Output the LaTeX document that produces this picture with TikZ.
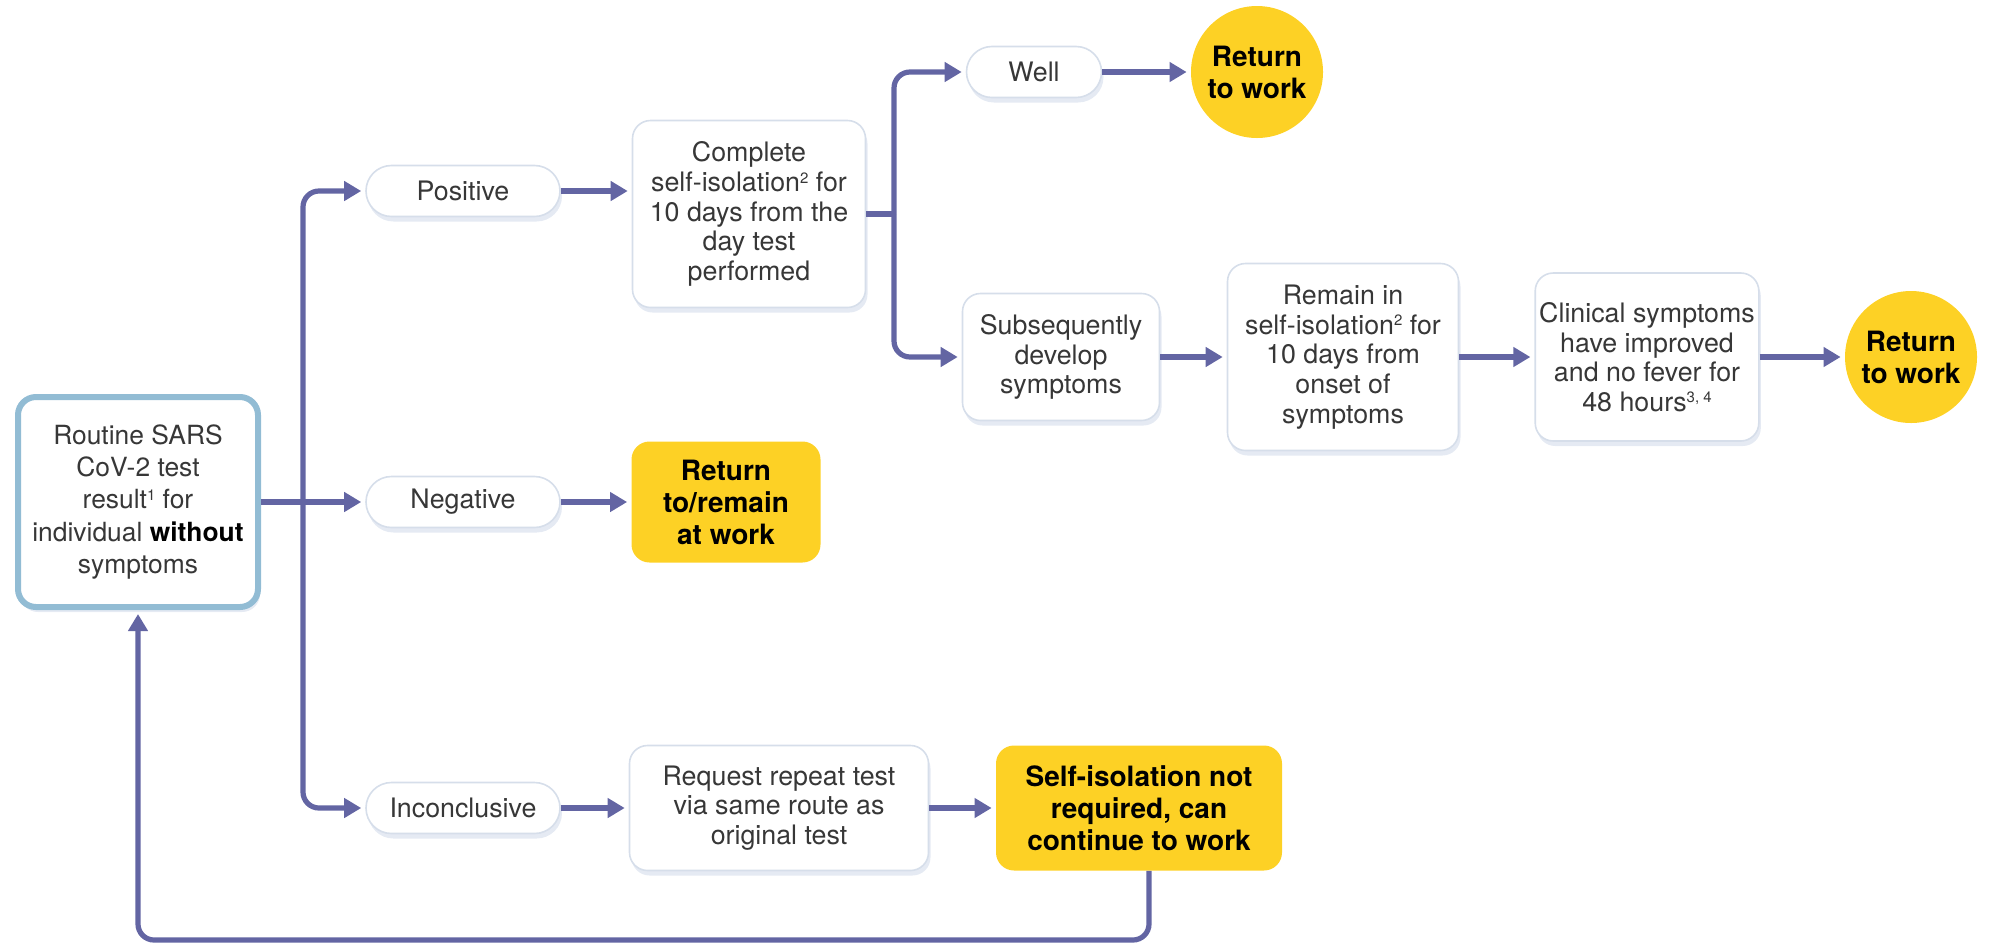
\documentclass[tikz,border=0pt]{standalone}
\usepackage{fontspec}
\setmainfont{TeX Gyre Heros}
\usetikzlibrary{calc,positioning,shadows,arrows.meta}

\definecolor{flowBlue}{RGB}{99,101,163}
\definecolor{boxYellow}{RGB}{253,209,37}
\definecolor{edgeGrey}{RGB}{214,222,234}
\definecolor{startBlue}{RGB}{146,188,212}
\definecolor{shadowBlue}{RGB}{125,150,195}
\definecolor{textGrey}{RGB}{55,55,55}

\begin{document}
\begin{tikzpicture}[x=0.5pt,y=-0.5pt]
    \newcommand*{\noteMark}[1]{\raisebox{0.6ex}{\fontsize{7.5}{8}\selectfont #1}}
    \tikzstyle{every node}=[font=\fontsize{13.4}{14.8}\selectfont];
    \tikzstyle{flow arrow}=[line width=2.6pt, flowBlue, -{Triangle[length=8.5pt,width=9.5pt]}, shorten >=2pt];
    \tikzstyle{soft shadow}=[drop shadow={opacity=0.2, shadow xshift=1pt, shadow yshift=-2.5pt, fill=shadowBlue}];
    \tikzstyle{white box}=[draw=edgeGrey, line width=0.8pt, fill=white, rounded corners=9pt, align=center, text=textGrey, inner sep=2pt, soft shadow];
    \tikzstyle{pill box}=[white box, rounded corners=12.7pt, minimum height=25.5pt];
    \tikzstyle{yellow box}=[fill=boxYellow, rounded corners=9pt, align=center, text=black, inner sep=2pt, font=\fontsize{14}{16}\selectfont\bfseries];
    \tikzstyle{yellow circle}=[yellow box, circle, minimum size=66pt, inner sep=0pt];

    \useasboundingbox (0,0) rectangle (1995,944);

    % start and result pills
    \node[white box, draw=startBlue, line width=3pt, minimum width=120pt, minimum height=105pt, font=\fontsize{13.2}{16.2}\selectfont] (routine) at (138,502)
        {Routine SARS\\CoV-2 test\\result\noteMark{1} for\\individual \textbf{\color{black}without}\\symptoms};
    \node[pill box, minimum width=97pt] (pos) at (463,191) {Positive};
    \node[pill box, minimum width=97pt] (neg) at (463,502) {Negative};
    \node[pill box, minimum width=97pt] (inc) at (463,808) {Inconclusive};

    % positive branch
    \node[white box, minimum width=116.5pt, minimum height=93.5pt] (complete) at (749,214)
        {Complete\\self-isolation\noteMark{2} for\\10 days from the\\day test\\performed};
    \node[pill box, minimum width=67.5pt] (well) at (1034,72) {Well};
    \node[yellow circle] (rtwA) at (1257,72) {Return\\to work};
    \node[white box, minimum width=98.5pt, minimum height=63.5pt] (subseq) at (1061,357)
        {Subsequently\\develop\\symptoms};
    \node[white box, minimum width=115.5pt, minimum height=93.5pt] (remain) at (1343,357)
        {Remain in\\self-isolation\noteMark{2} for\\10 days from\\onset of\\symptoms};
    \node[white box, minimum width=111pt, minimum height=84pt] (clinical) at (1647,357)
        {Clinical symptoms\\have improved\\and no fever for\\48 hours\noteMark{3, 4}};
    \node[yellow circle] (rtwB) at (1911,357) {Return\\to work};

    % negative and inconclusive branches
    \node[yellow box, minimum width=94.5pt, minimum height=60.5pt] (stay) at (726,502) {Return\\to/remain\\at work};
    \node[white box, minimum width=149.5pt, minimum height=62.5pt] (request) at (779,808)
        {Request repeat test\\via same route as\\original test};
    \node[yellow box, minimum width=143pt, minimum height=62.5pt] (selfiso) at (1139,808)
        {Self-isolation not\\required, can\\continue to work};

    \coordinate (split) at (303,502);
    \coordinate (splitPos) at (894,214);
    \coordinate (loopStart) at (1149,840);
    \coordinate (loopCorner) at (138,940);

    \draw[flow arrow] (routine) -- (neg);
    \draw[flow arrow, rounded corners=8pt] (split) |- (pos);
    \draw[flow arrow, rounded corners=8pt] (split) |- (inc);
    \draw[flow arrow] (pos) -- (pos -| complete.west);
    \draw[line width=2.6pt, flowBlue] (complete.east) -- (splitPos);
    \draw[flow arrow, rounded corners=8pt] (splitPos) |- (well);
    \draw[flow arrow, rounded corners=8pt] (splitPos) |- (subseq);

    \foreach \a/\b in {neg/stay, inc/request, request/selfiso, well/rtwA, subseq/remain, remain/clinical, clinical/rtwB} {
      \draw[flow arrow] (\a) -- (\b);
    }

    \draw[flow arrow, rounded corners=8pt] (loopStart |- selfiso.south) |- (loopCorner) -- (routine.south);
  \end{tikzpicture}
\end{document}
